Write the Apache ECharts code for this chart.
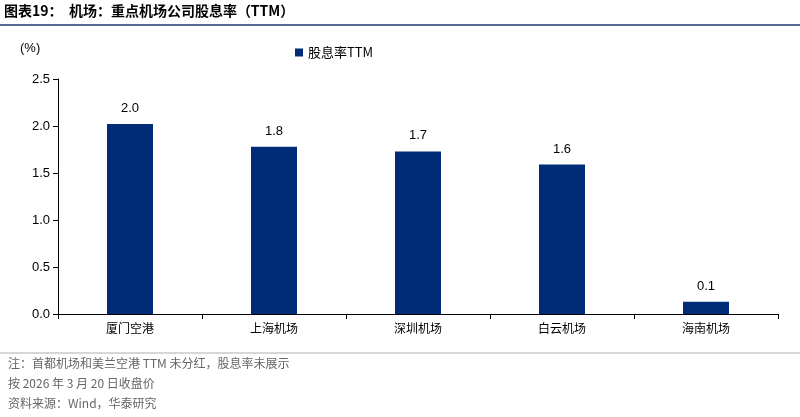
<!DOCTYPE html><html><head><meta charset="utf-8"><script src="https://cdn.jsdelivr.net/npm/echarts@6/dist/echarts.min.js"></script>
<style>body{margin:0}#c{width:800px;height:417px}</style></head><body><div id="c"></div><script>
const categories=['厦门空港','上海机场','深圳机场','白云机场','海南机场'];
const values=[2.02,1.78,1.73,1.59,0.13];
const labels=['2.0','1.8','1.7','1.6','0.1'];
const F='"Noto Sans CJK SC", sans-serif';
const c=echarts.init(document.getElementById('c'));
c.setOption({animation:false,
graphic:[
{type:'text',left:4,top:4,style:{text:'图表19：  机场：重点机场公司股息率（TTM）',font:'bold 14px '+F,fill:'#000'}},
{type:'line',shape:{x1:0,y1:25,x2:800,y2:25},style:{stroke:'#1f3a6e',lineWidth:1.5}},
{type:'line',shape:{x1:0,y1:353,x2:800,y2:353},style:{stroke:'#999',lineWidth:0.8}},
{type:'text',left:8,top:357,style:{text:'注：首都机场和美兰空港 TTM 未分红，股息率未展示',font:'12px '+F,fill:'#666'}},
{type:'text',left:8,top:377,style:{text:'按 2026 年 3 月 20 日收盘价',font:'12px '+F,fill:'#666'}},
{type:'text',left:8,top:397,style:{text:'资料来源：Wind，华泰研究',font:'12px '+F,fill:'#666'}},
{type:'text',left:20,top:42,style:{text:'(%)',font:'13px Arial',fill:'#000'}}
],
legend:{top:41,left:290,itemWidth:8,itemHeight:8,icon:'rect',textStyle:{fontFamily:F,fontSize:13,color:'#000'},data:['股息率TTM']},
grid:{left:58,right:22,top:79,bottom:103},
xAxis:{type:'category',data:categories,axisTick:{show:true,alignWithLabel:false,lineStyle:{color:'#000'}},axisLine:{lineStyle:{color:'#000'}},axisLabel:{color:'#000',fontFamily:F,fontSize:12}},
yAxis:{type:'value',min:0,max:2.5,interval:0.5,axisLine:{show:true,lineStyle:{color:'#000'}},axisTick:{show:true,inside:false,lineStyle:{color:'#000'}},splitLine:{show:false},axisLabel:{color:'#000',fontFamily:'Arial',fontSize:13,formatter:v=>v.toFixed(1)}},
series:[{name:'股息率TTM',type:'bar',data:values,barWidth:46,itemStyle:{color:'#002c77'},label:{show:true,position:'top',distance:9,color:'#000',fontFamily:'Arial',fontSize:13,formatter:p=>labels[p.dataIndex]}}]
});
</script></body></html>
